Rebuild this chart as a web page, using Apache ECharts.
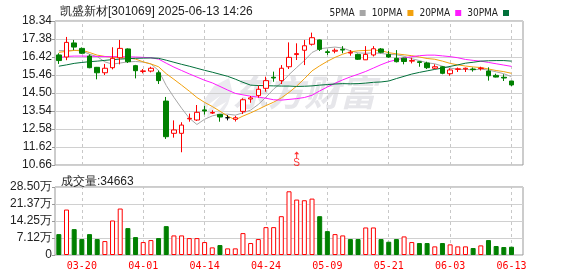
<!DOCTYPE html>
<html><head><meta charset="utf-8">
<script src="https://cdn.jsdelivr.net/npm/echarts@6/dist/echarts.min.js"></script>
<style>html,body{margin:0;padding:0;background:#fff}#c{width:578px;height:276px}</style>
</head><body><div id="c"></div>
<script>
const titleText = '凯盛新材[301069] 2025-06-13 14:26';
const volNow = 34663;
const dates = ['03-17','03-18','03-19','03-20','03-21','03-24','03-25','03-26','03-27','03-28',
 '03-31','04-01','04-02','04-03','04-07','04-08','04-09','04-10','04-11','04-14',
 '04-15','04-16','04-17','04-18','04-21','04-22','04-23','04-24','04-25','04-28',
 '04-29','04-30','05-06','05-07','05-08','05-09','05-12','05-13','05-14','05-15',
 '05-16','05-19','05-20','05-21','05-22','05-23','05-26','05-27','05-28','05-29',
 '05-30','06-03','06-04','06-05','06-06','06-09','06-10','06-11','06-12','06-13'];
const labelDates = ['03-20','04-01','04-14','04-24','05-09','05-21','06-03','06-13'];
const opens = [16.53,16.42,17.17,16.88,16.47,15.87,15.58,15.85,16.38,16.85,
 15.96,15.65,15.67,15.58,14.07,12.35,12.35,13.12,13.06,13.60,
 13.43,13.36,13.18,13.10,13.52,14.18,14.36,14.75,15.34,15.16,
 15.90,16.55,16.78,17.10,17.33,16.70,16.73,16.83,16.63,16.56,
 16.27,16.53,16.85,16.56,16.35,16.36,16.20,16.17,16.10,15.82,
 15.90,15.53,15.76,15.78,15.78,15.80,15.67,15.44,15.34,15.14];
const closes = [16.23,17.20,16.95,16.62,15.85,15.58,15.82,16.35,16.88,16.17,
 15.69,15.68,15.82,15.16,12.17,12.53,12.79,13.15,13.47,13.54,
 13.46,13.22,13.18,13.18,14.14,14.24,14.70,15.16,15.30,15.82,
 16.40,16.60,17.02,17.45,16.83,16.66,16.78,16.79,16.67,16.30,
 16.56,16.86,16.67,16.42,16.17,16.18,16.23,16.13,15.85,15.90,
 15.55,15.73,15.79,15.82,15.75,15.83,15.42,15.35,15.30,14.93];
const highs = [16.62,17.49,17.33,16.93,16.56,15.89,16.05,16.94,17.33,16.88,
 16.00,15.78,15.90,15.70,14.29,13.04,12.94,13.40,13.86,13.82,
 13.58,13.38,13.32,13.28,14.22,14.34,14.89,15.37,15.64,15.99,
 17.20,17.15,17.33,17.72,17.35,16.81,16.88,17.00,16.79,16.60,
 17.00,17.00,16.90,16.74,16.79,16.38,16.38,16.21,16.17,16.03,
 15.94,15.82,15.86,15.86,15.86,15.90,15.87,15.53,15.50,15.14];
const lows = [16.05,16.25,16.79,16.58,15.82,15.23,15.46,15.76,16.03,16.10,
 15.28,15.55,15.60,14.98,12.05,12.12,11.34,12.97,13.01,13.35,
 13.38,12.97,13.04,12.98,13.38,13.98,14.25,14.57,15.10,14.98,
 15.78,16.26,15.99,17.03,16.74,16.53,16.62,16.62,16.49,16.26,
 16.26,16.45,16.62,16.38,16.13,16.03,16.08,15.90,15.78,15.78,
 15.50,15.42,15.62,15.62,15.64,15.70,15.16,15.33,15.14,14.87];
const ma5 = [16.76,16.76,16.78,16.74,16.57,16.44,16.16,16.04,16.10,16.16,
 16.18,16.15,16.05,15.70,14.90,14.27,13.69,13.16,12.82,13.10,
 13.28,13.37,13.37,13.32,13.44,13.59,13.89,14.28,14.71,15.04,
 15.48,15.86,16.23,16.66,16.86,16.91,16.95,16.90,16.75,16.64,
 16.62,16.64,16.61,16.56,16.54,16.46,16.33,16.23,16.11,16.06,
 15.93,15.83,15.76,15.76,15.73,15.78,15.72,15.63,15.53,15.37];
const ma10 = [16.67,16.72,16.77,16.78,16.66,16.52,16.45,16.41,16.38,16.37,
 16.31,16.16,16.05,15.90,15.53,15.23,14.92,14.60,14.26,14.00,
 13.78,13.53,13.27,13.07,13.27,13.44,13.63,13.83,14.01,14.24,
 14.53,14.87,15.26,15.68,15.95,16.19,16.40,16.57,16.70,16.75,
 16.77,16.79,16.76,16.65,16.59,16.54,16.49,16.42,16.34,16.30,
 16.20,16.08,16.00,15.94,15.89,15.86,15.78,15.70,15.64,15.55];
const ma20 = [16.38,16.45,16.47,16.47,16.46,16.45,16.44,16.44,16.44,16.43,
 16.42,16.40,16.38,16.31,16.09,15.88,15.70,15.52,15.35,15.18,
 15.04,14.85,14.66,14.48,14.40,14.33,14.28,14.22,14.14,14.12,
 14.16,14.20,14.26,14.38,14.61,14.82,15.02,15.20,15.36,15.50,
 15.65,15.83,16.01,16.17,16.27,16.37,16.44,16.49,16.52,16.52,
 16.48,16.44,16.38,16.29,16.24,16.20,16.13,16.06,15.99,15.92];
const ma30 = [15.93,16.00,16.08,16.13,16.17,16.20,16.24,16.28,16.31,16.33,
 16.35,16.36,16.37,16.35,16.25,16.14,16.03,15.93,15.82,15.71,
 15.61,15.50,15.39,15.24,15.07,14.92,14.90,14.89,14.88,14.87,
 14.87,14.85,14.86,14.88,14.92,14.95,14.98,15.00,14.99,15.00,
 15.03,15.07,15.09,15.14,15.27,15.39,15.51,15.60,15.68,15.76,
 15.83,15.92,16.00,16.09,16.14,16.20,16.22,16.23,16.23,16.20];
const volumes = [8.76,19.05,10.85,6.68,8.76,6.68,5.84,14.46,19.47,11.27,
 7.51,5.42,6.26,7.09,12.10,8.21,8.21,7.09,7.09,5.42,
 3.20,4.17,2.78,2.78,9.18,5.01,6.68,11.68,11.68,16.27,
 26.70,23.23,22.95,23.64,16.27,10.01,8.76,8.21,6.68,6.68,
 11.54,11.54,6.68,5.56,6.68,7.79,5.42,5.01,5.01,3.62,
 5.01,4.45,3.62,3.62,2.92,4.03,6.26,3.76,3.34,3.47];
const volUp = [0,1,0,0,0,0,1,1,1,0,0,1,1,0,0,1,1,1,1,1,1,0,1,1,1,1,1,1,1,1,1,
 1,1,1,0,0,1,1,0,0,1,1,0,0,0,1,1,0,0,1,0,1,1,1,0,1,0,0,0,0];
const priceTickLabels = ['10.66','11.62','12.58','13.54','14.50','15.46','16.42','17.38','18.34'];
const volTickLabels = ['0','7.12万','14.25万','21.37万','28.50万'];
const maNames = ['5PMA','10PMA','20PMA','30PMA'];
const maColors = ['#a6a6a6','#f2a10d','#ff1aff','#00703a'];
const signalDate = '04-30';
const signalLevel = 11.2;

const RED = '#ff0000', GREEN = '#008000';
const catData = dates.concat(['']);
const candle = dates.map((d, i) => [opens[i], closes[i], lows[i], highs[i]]);
const vLineCfg = {
  symbol: ['none', 'none'], silent: true, animation: false, z: 1,
  label: {show: false}, emphasis: {disabled: true},
  lineStyle: {type: [3, 3], color: '#c8c8c8', width: 1},
  data: labelDates.map(d => ({xAxis: d}))
};
const fontLat = '"Liberation Sans", Arial, sans-serif';
const maSeries = [ma5, ma10, ma20, ma30].map((arr, k) => ({
  type: 'line', name: maNames[k], data: arr, xAxisIndex: 0, yAxisIndex: 0,
  symbol: 'none', smooth: false, z: 3,
  lineStyle: {width: 1, color: maColors[k]}, itemStyle: {color: maColors[k]}
}));

const chart = echarts.init(document.getElementById('c'), null, {renderer: 'canvas', width: 578, height: 276});
chart.setOption({
  animation: false,
  title: [
    {text: titleText, left: 55, top: 1, textStyle: {fontSize: 12, fontWeight: 'normal', color: '#222', fontFamily: fontLat}},
    {text: '成交量:' + volNow, left: 56, top: 171, textStyle: {fontSize: 12, fontWeight: 'normal', color: '#222', fontFamily: fontLat}}
  ],
  legend: {
    data: maNames, right: 64, top: 3, align: 'right', icon: 'rect',
    itemWidth: 6, itemHeight: 6, itemGap: 6,
    textStyle: {fontSize: 10, color: '#222', fontFamily: '"Liberation Sans Narrow", "DejaVu Sans Condensed", "Liberation Sans", sans-serif'}
  },
  graphic: [
    {type: 'polygon', silent: true, z: 0,
     shape: {points: [[229,78],[214,86],[204,100],[203,116],[209,104],[220,96],[208,110],[207,119],[215,108],[226,102],[218,112],[220,117],[228,104],[232,90]]},
     style: {fill: '#ebebef'}},
    {type: 'text', left: 232, top: 74, silent: true, z: 0,
     style: {text: '东方财富', font: 'italic bold 36px "Noto Sans CJK SC"', fill: '#e6e6ea'}}
  ],
  grid: [
    {left: 55, right: 55, top: 21, height: 144, show: true, borderColor: '#999', borderWidth: 1},
    {left: 55, right: 55, top: 187, height: 68, show: true, borderColor: '#999', borderWidth: 1}
  ],
  xAxis: [
    {type: 'category', data: catData, gridIndex: 0, boundaryGap: true,
     axisLine: {show: false}, axisTick: {show: false}, axisLabel: {show: false}, splitLine: {show: false}},
    {type: 'category', data: catData, gridIndex: 1, boundaryGap: true,
     axisLine: {show: false}, axisTick: {show: false}, splitLine: {show: false},
     axisLabel: {show: true, interval: (i) => labelDates.indexOf(catData[i]) >= 0,
       color: RED, fontSize: 10, fontFamily: '"DejaVu Sans Mono", monospace', margin: 6}}
  ],
  yAxis: [
    {type: 'value', gridIndex: 0, min: 10.66, max: 18.34, interval: 0.96,
     axisLine: {show: false}, axisTick: {show: true, length: 3, lineStyle: {color: '#999'}},
     axisLabel: {formatter: (v, i) => priceTickLabels[i], fontSize: 12, color: '#222', margin: 3, fontFamily: fontLat},
     splitLine: {show: true, lineStyle: {color: '#d0d0d0', width: 1}}},
    {type: 'value', gridIndex: 1, min: 0, max: 28.5, interval: 7.125,
     axisLine: {show: false}, axisTick: {show: true, length: 3, lineStyle: {color: '#999'}},
     axisLabel: {formatter: (v, i) => volTickLabels[i], fontSize: 12, color: '#222', margin: 3, fontFamily: fontLat},
     splitLine: {show: true, lineStyle: {color: '#d0d0d0', width: 1}}}
  ],
  series: [
    {type: 'line', name: 'gridV0', data: [], xAxisIndex: 0, yAxisIndex: 0, z: 1, silent: true, markLine: vLineCfg},
    {type: 'line', name: 'gridV1', data: [], xAxisIndex: 1, yAxisIndex: 1, z: 1, silent: true, markLine: vLineCfg},
    {type: 'candlestick', name: 'K', data: candle, xAxisIndex: 0, yAxisIndex: 0, barWidth: 5, z: 4,
     itemStyle: {color: '#ffffff', color0: GREEN, borderColor: RED, borderColor0: GREEN, borderColorDoji: '#000', borderWidth: 1}},
    ...maSeries,
    {type: 'scatter', name: 'signal', xAxisIndex: 0, yAxisIndex: 0, z: 5,
     data: [[signalDate, signalLevel]],
     symbol: 'path://M5,0 L10,5 L6,5 L6,12 L4,12 L4,5 L0,5 Z', symbolSize: [5, 7],
     itemStyle: {color: RED},
     label: {show: true, position: 'bottom', distance: 0, formatter: 'S', color: RED, fontSize: 10, fontFamily: fontLat}},
    {type: 'bar', name: 'VOL', xAxisIndex: 1, yAxisIndex: 1, barWidth: 5, z: 3,
     data: volumes.map((v, i) => ({value: v, itemStyle: volUp[i]
       ? {color: '#ffffff', borderColor: RED, borderWidth: 1}
       : {color: GREEN, borderColor: GREEN, borderWidth: 1}}))}
  ]
});
</script>
</body></html>
